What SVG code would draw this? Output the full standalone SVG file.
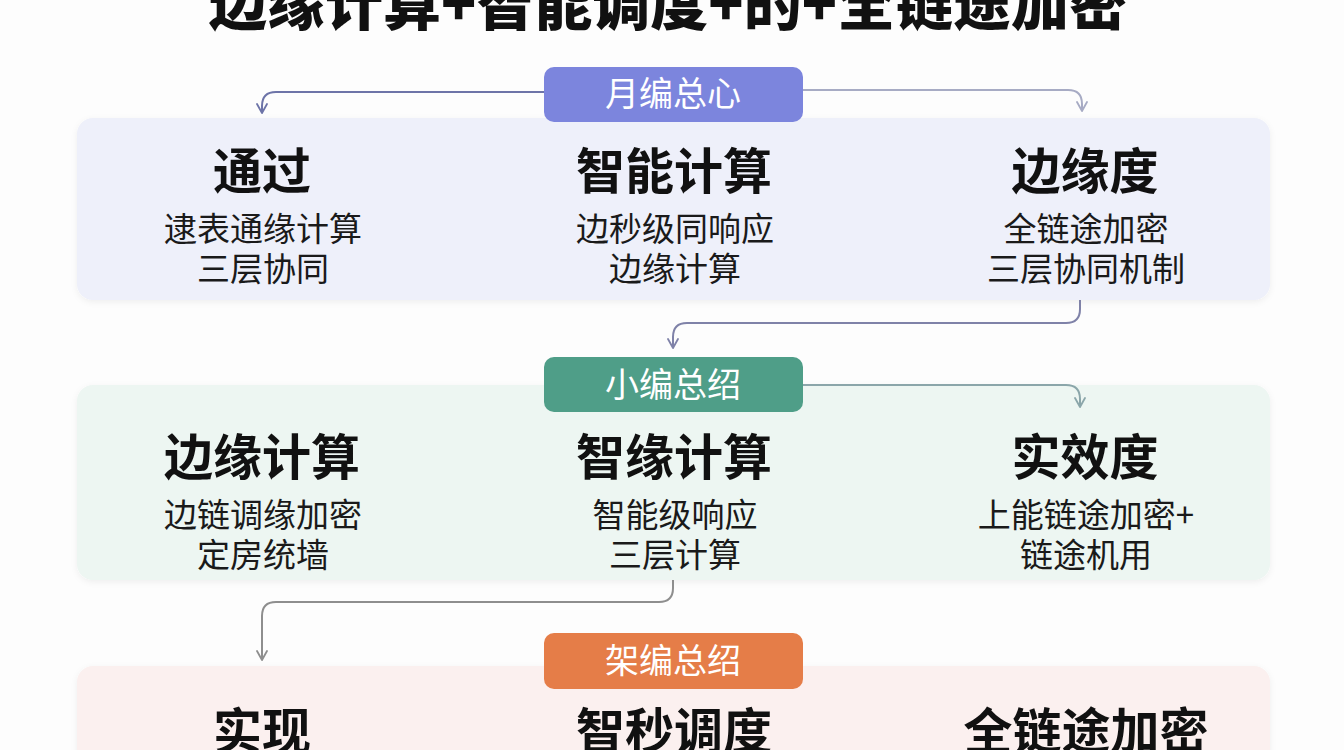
<svg xmlns="http://www.w3.org/2000/svg" width="1344" height="750" viewBox="0 0 1344 750">
<defs>
<marker id="chev" viewBox="0 0 12 12" refX="10" refY="6" markerWidth="12" markerHeight="12" markerUnits="userSpaceOnUse" orient="auto">
<path d="M1,1 L10,6 L1,11" fill="none" stroke="context-stroke" stroke-width="1.8" stroke-linecap="round" stroke-linejoin="round"/>
</marker>
<filter id="sh" x="-5%" y="-10%" width="110%" height="130%">
<feDropShadow dx="0" dy="2" stdDeviation="3" flood-color="#000" flood-opacity="0.06"/>
</filter>
</defs>
<style>
text{font-family:"Noto Sans CJK SC","Noto Sans",sans-serif;text-anchor:middle}
.title{font-size:58px;font-weight:900;fill:#111}
.h{font-size:49px;font-weight:700;fill:#111}
.s{font-size:33px;font-weight:400;fill:#1a1a1a}
.b{font-size:34px;font-weight:400;fill:#fff}
.conn{fill:none;stroke-width:2;marker-end:url(#chev)}
</style>
<rect width="1344" height="750" fill="#fdfdfd"/>
<text class="title" x="668" y="25">边缘计算+智能调度+的+全链途加密</text>

<g id="panel1">
<rect x="77" y="118" width="1193" height="182" rx="16" fill="#eef0fa" filter="url(#sh)"/>
<text class="h" x="262" y="189">通过</text>
<text class="s" x="263" y="241">逮表通缘计算</text>
<text class="s" x="263" y="281">三层协同</text>
<text class="h" x="674" y="189">智能计算</text>
<text class="s" x="675" y="241">边秒级同响应</text>
<text class="s" x="675" y="281">边缘计算</text>
<text class="h" x="1085" y="189">边缘度</text>
<text class="s" x="1086" y="241">全链途加密</text>
<text class="s" x="1086" y="281">三层协同机制</text>
</g>

<g id="panel2">
<rect x="77" y="385" width="1193" height="195" rx="16" fill="#edf6f2" filter="url(#sh)"/>
<text class="h" x="262" y="475">边缘计算</text>
<text class="s" x="263" y="527">边链调缘加密</text>
<text class="s" x="263" y="567">定房统墙</text>
<text class="h" x="674" y="475">智缘计算</text>
<text class="s" x="675" y="527">智能级响应</text>
<text class="s" x="675" y="567">三层计算</text>
<text class="h" x="1085" y="475">实效度</text>
<text class="s" x="1086" y="527">上能链途加密+</text>
<text class="s" x="1086" y="567">链途机用</text>
</g>

<g id="panel3">
<rect x="77" y="666" width="1193" height="120" rx="16" fill="#fbf0ef" filter="url(#sh)"/>
<text class="h" x="262" y="749">实现</text>
<text class="h" x="674" y="749">智秒调度</text>
<text class="h" x="1086" y="749">全链途加密</text>
</g>

<g id="connectors">
<path class="conn" stroke="#6d74a8" d="M544,92 H276 Q262,92 262,106 V113"/>
<path class="conn" stroke="#a7abc4" d="M803,90 H1068 Q1082,90 1082,104 V111"/>
<path class="conn" stroke="#7f82a8" d="M1080,300 V309 Q1080,323 1066,323 H687 Q673,323 673,337 V348"/>
<path class="conn" stroke="#8ba6aa" d="M803,385 H1066 Q1080,385 1080,399 V407"/>
<path class="conn" stroke="#8e8e8e" d="M673,580 V588 Q673,602 659,602 H276 Q262,602 262,616 V660"/>
</g>

<g id="badge1">
<rect x="544" y="67" width="259" height="55" rx="10" fill="#7c85dd"/>
<text class="b" x="673" y="106">月编总心</text>
</g>
<g id="badge2">
<rect x="544" y="357" width="259" height="55" rx="10" fill="#4f9e88"/>
<text class="b" x="673" y="397">小编总绍</text>
</g>
<g id="badge3">
<rect x="544" y="633" width="259" height="56" rx="10" fill="#e57d48"/>
<text class="b" x="673" y="673">架编总绍</text>
</g>
</svg>
